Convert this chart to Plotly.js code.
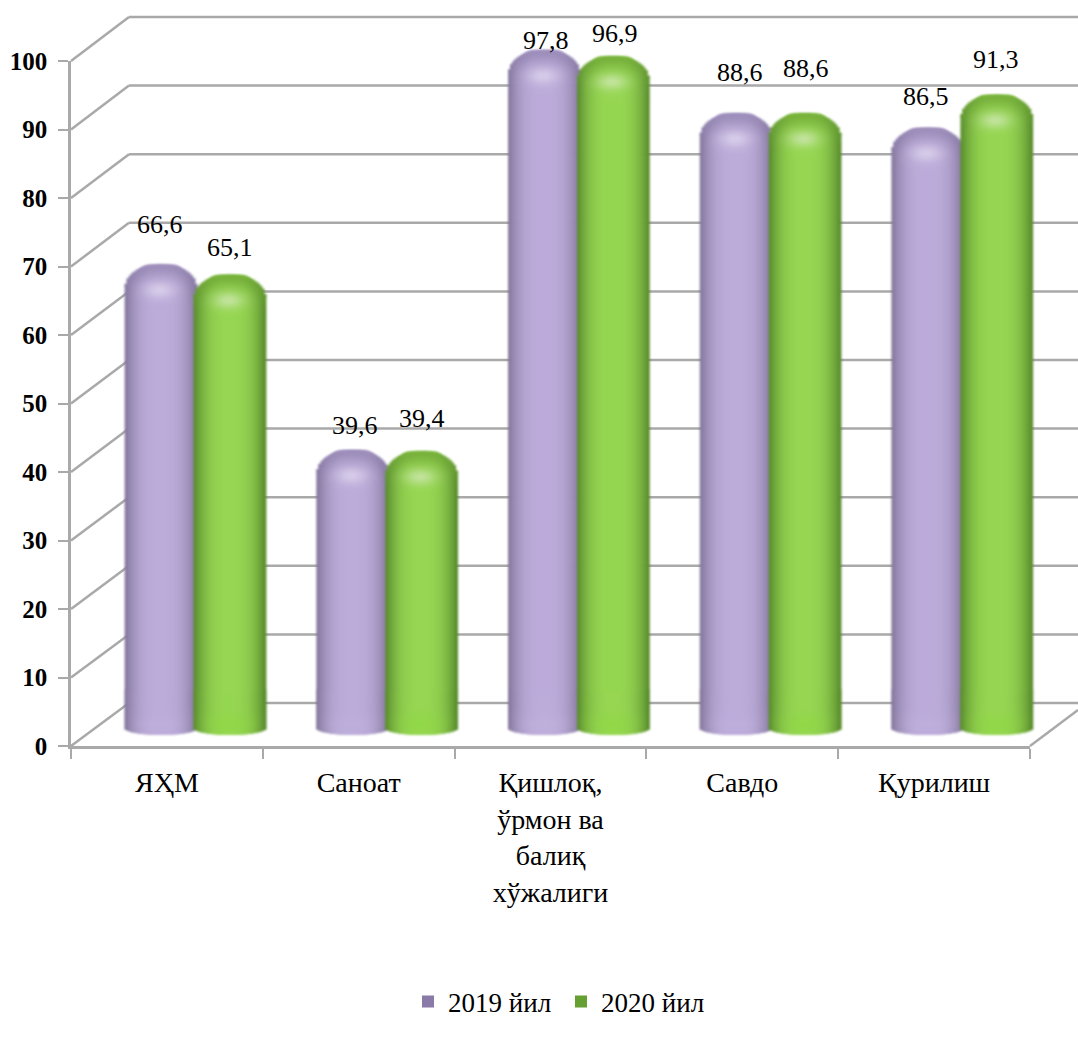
<!DOCTYPE html>
<html><head><meta charset="utf-8">
<script src="https://cdn.plot.ly/plotly-3.0.1.min.js"></script>
<style>html,body{margin:0;padding:0;background:#fff}#c{width:1078px;height:1039px}
.barlayer{filter:blur(0.8px)}</style>
</head><body><div id="c"></div>
<script>
const categories = ['ЯҲМ','Саноат','Қишлоқ,<br>ўрмон ва<br>балиқ<br>хўжалиги','Савдо','Қурилиш'];
const series2019 = [66.6,39.6,97.8,88.6,86.5];
const series2020 = [65.1,39.4,96.9,88.6,91.3];
const tickValues = [0,10,20,30,40,50,60,70,80,90,100];

// layout constants (pixels)
const W=1078,H=1039;
const FX0=71,FX1=1030,FY0=746,FY100=61,BACKX=129,BACKY0=703,BACKPX=6.86;
const BARX0=195.5,CATPX=191.7,BARY0=722,UNITPX=6.87,HALF=36,SERIESOFF=34.5;
const GRID='#a9a9a9';
const toPaperX=p=>p/W, toPaperY=p=>(H-p)/H;

const series=[
 {name:'2019 йил',vals:series2019,off:-SERIESOFF,main:'#a797c4',key:'#8a7aa8',center:[188,172,218],edge:[128,116,152],rim:[140,126,170],glow:[192,178,222],
  labels:[[-1,39.5],[2,24],[2,10],[4,41],[-2,31]]},
 {name:'2020 йил',vals:series2020,off:SERIESOFF,main:'#84c044',key:'#66a033',center:[150,214,82],edge:[86,136,44],rim:[104,158,50],glow:[140,218,60],
  labels:[[0,27],[0,33],[2,23],[1,45],[-1,35]]}
];

const mix=(a,b,w)=>a.map((v,i)=>v+(b[i]-v)*w);
const rgb=c=>`rgb(${c.map(v=>Math.round(Math.min(255,v))).join(',')})`;
const edgeDrop=t=>24*(1-Math.pow(1-Math.pow(Math.min(1,Math.abs(t)),2.2),1/2.2));
function shade(s,t,dy,fromBottom){
  const a=Math.abs(t);
  let c=mix(s.center,s.edge,Math.min(1,Math.pow(a,2.8)));
  if(fromBottom!==undefined) c=mix(c,s.glow,0.5*Math.exp(-Math.pow(t/0.6,2)-Math.pow((fromBottom-10)/9,2)));
  const d=dy-edgeDrop(t);
  c=mix(c,s.rim,0.65*Math.exp(-(d*d)/(2*9*9)));
  const sp=0.45*Math.exp(-Math.pow((t+0.03)/0.42,2)-Math.pow((dy-25)/8,2));
  return rgb(mix(c,[248,244,250],sp));
}
function buildShading(s){
  const x=[],y=[],base=[],w=[],col=[];
  const add=(xp,wid,bPx,tPx,c)=>{
    const b=(BARY0-bPx)/UNITPX,tt=(BARY0-tPx)/UNITPX;
    x.push(xp);w.push(wid);base.push(b);y.push(tt-b);col.push(c);
  };
  s.vals.forEach((v,i)=>{
    const cx=i+s.off/CATPX;
    for(let p=-HALF;p<HALF;p+=2){
      const mid=(p+1)/HALF;
      const outer=(Math.abs(p+1)+1)/HALF;
      const bottomPx=735-7*(1-Math.sqrt(Math.max(0,1-mid*mid)));
      const T=BARY0-UNITPX*v;
      const xpos=cx+(p+1)/CATPX;
      const wid=2.7/CATPX;
      const bodyTop=T+44;
      add(xpos,wid,bottomPx,bodyTop,shade(s,mid,80));
      // lower glow cells
      for(let k=0;k<10;k++){
        add(xpos,wid,bottomPx-k*4,bottomPx-k*4-4.6,shade(s,mid,80,k*4+2));
      }
      // cap cells
      const e=edgeDrop(outer*0.5+Math.abs(mid)*0.5);
      for(let dy=41;dy>e;dy-=3){
        const top=Math.max(e,dy);
        add(xpos,wid,T+dy+3.6,T+top,shade(s,mid,dy+1.5));
      }
      add(xpos,wid,T+e+3.6,T+e,shade(s,mid,e+1.5));
    }
  });
  return {type:'bar',xaxis:'x3',yaxis:'y2',x,y,base,width:w,
    marker:{color:col,line:{width:0}},showlegend:false,hoverinfo:'skip'};
}

const traces=[
 {type:'scatter',mode:'none',x:categories,y:series2019,xaxis:'x',yaxis:'y',showlegend:false,hoverinfo:'skip'}
];
series.forEach(s=>{
  traces.push({type:'bar',name:s.name,x:categories,y:s.vals,xaxis:'x2',yaxis:'y2',showlegend:false,
    width:50/CATPX,offset:(s.off-25)/CATPX,marker:{color:s.main,cornerradius:14,line:{width:0}}});
  traces.push(buildShading(s));
});
series.forEach(s=>{
  traces.push({type:'bar',name:s.name,x:[categories[0]],y:[0],xaxis:'x2',yaxis:'y2',hoverinfo:'skip',
    marker:{color:s.key,line:{width:0}}});
});

// 3-D wall: diagonal and back lines from the tick list
const shapes=[];
const line=(x0,y0,x1,y1)=>({type:'line',xref:'paper',yref:'paper',layer:'below',
  x0:toPaperX(x0),y0:toPaperY(y0),x1:toPaperX(x1),y1:toPaperY(y1),line:{color:GRID,width:2.5}});
tickValues.forEach(v=>{
  const fy=FY0-(FY0-FY100)*v/100, by=BACKY0-BACKPX*v;
  shapes.push(line(FX0,fy,BACKX,by));
  shapes.push(line(BACKX,by,W,by));
});
shapes.push(line(FX1,FY0,W,FY0-36));

const annotations=[];
series.forEach(s=>s.vals.forEach((v,i)=>{
  annotations.push({xref:'x2',yref:'y2',x:i+s.off/CATPX,y:v,showarrow:false,xanchor:'center',yanchor:'middle',
    text:v.toFixed(1).replace('.',','),xshift:s.labels[i][0],yshift:s.labels[i][1],
    font:{family:'"Liberation Serif",serif',size:26,color:'#000'}});
}));

const serif='"Liberation Serif","Times New Roman",serif';
const layout={
  width:W,height:H,margin:{l:0,r:0,t:0,b:0},paper_bgcolor:'#fff',plot_bgcolor:'rgba(0,0,0,0)',
  barmode:'overlay',showlegend:true,
  xaxis:{domain:[toPaperX(FX0),toPaperX(FX1)],type:'category',categoryorder:'array',categoryarray:categories,range:[-0.5,4.5],
    anchor:'y',tickson:'boundaries',ticks:'outside',ticklen:10,tickwidth:2,tickcolor:GRID,showline:true,linecolor:GRID,linewidth:2.5,
    ticklabelstandoff:10,showgrid:false,zeroline:false,tickangle:0,tickfont:{family:serif,size:28,color:'#000'},fixedrange:true},
  yaxis:{domain:[toPaperY(FY0),toPaperY(FY100)],range:[0,100],tickvals:tickValues,anchor:'x',ticks:'outside',ticklen:10,tickwidth:2,tickcolor:GRID,
    ticklabelstandoff:6,showline:true,linecolor:GRID,linewidth:2.5,showgrid:false,zeroline:false,tickfont:{family:serif,size:25,color:'#000',weight:'bold'},fixedrange:true},
  xaxis2:{domain:[toPaperX(FX0),1],type:'category',categoryorder:'array',categoryarray:categories,
    range:[(FX0-BARX0)/CATPX,(W-BARX0)/CATPX],anchor:'y2',visible:false,fixedrange:true},
  xaxis3:{domain:[toPaperX(FX0),1],type:'linear',range:[(FX0-BARX0)/CATPX,(W-BARX0)/CATPX],anchor:'y2',visible:false,fixedrange:true},
  yaxis2:{domain:[toPaperY(800),1],range:[(BARY0-800)/UNITPX,BARY0/UNITPX],anchor:'x2',visible:false,fixedrange:true},
  legend:{orientation:'h',x:toPaperX(561),xanchor:'center',y:toPaperY(1002),yanchor:'middle',entrywidth:108,entrywidthmode:'pixels',
    font:{family:serif,size:27,color:'#000'},bgcolor:'rgba(0,0,0,0)',traceorder:'normal'},
  shapes,annotations
};
Plotly.newPlot('c',traces,layout,{displayModeBar:false,responsive:false});
</script></body></html>
